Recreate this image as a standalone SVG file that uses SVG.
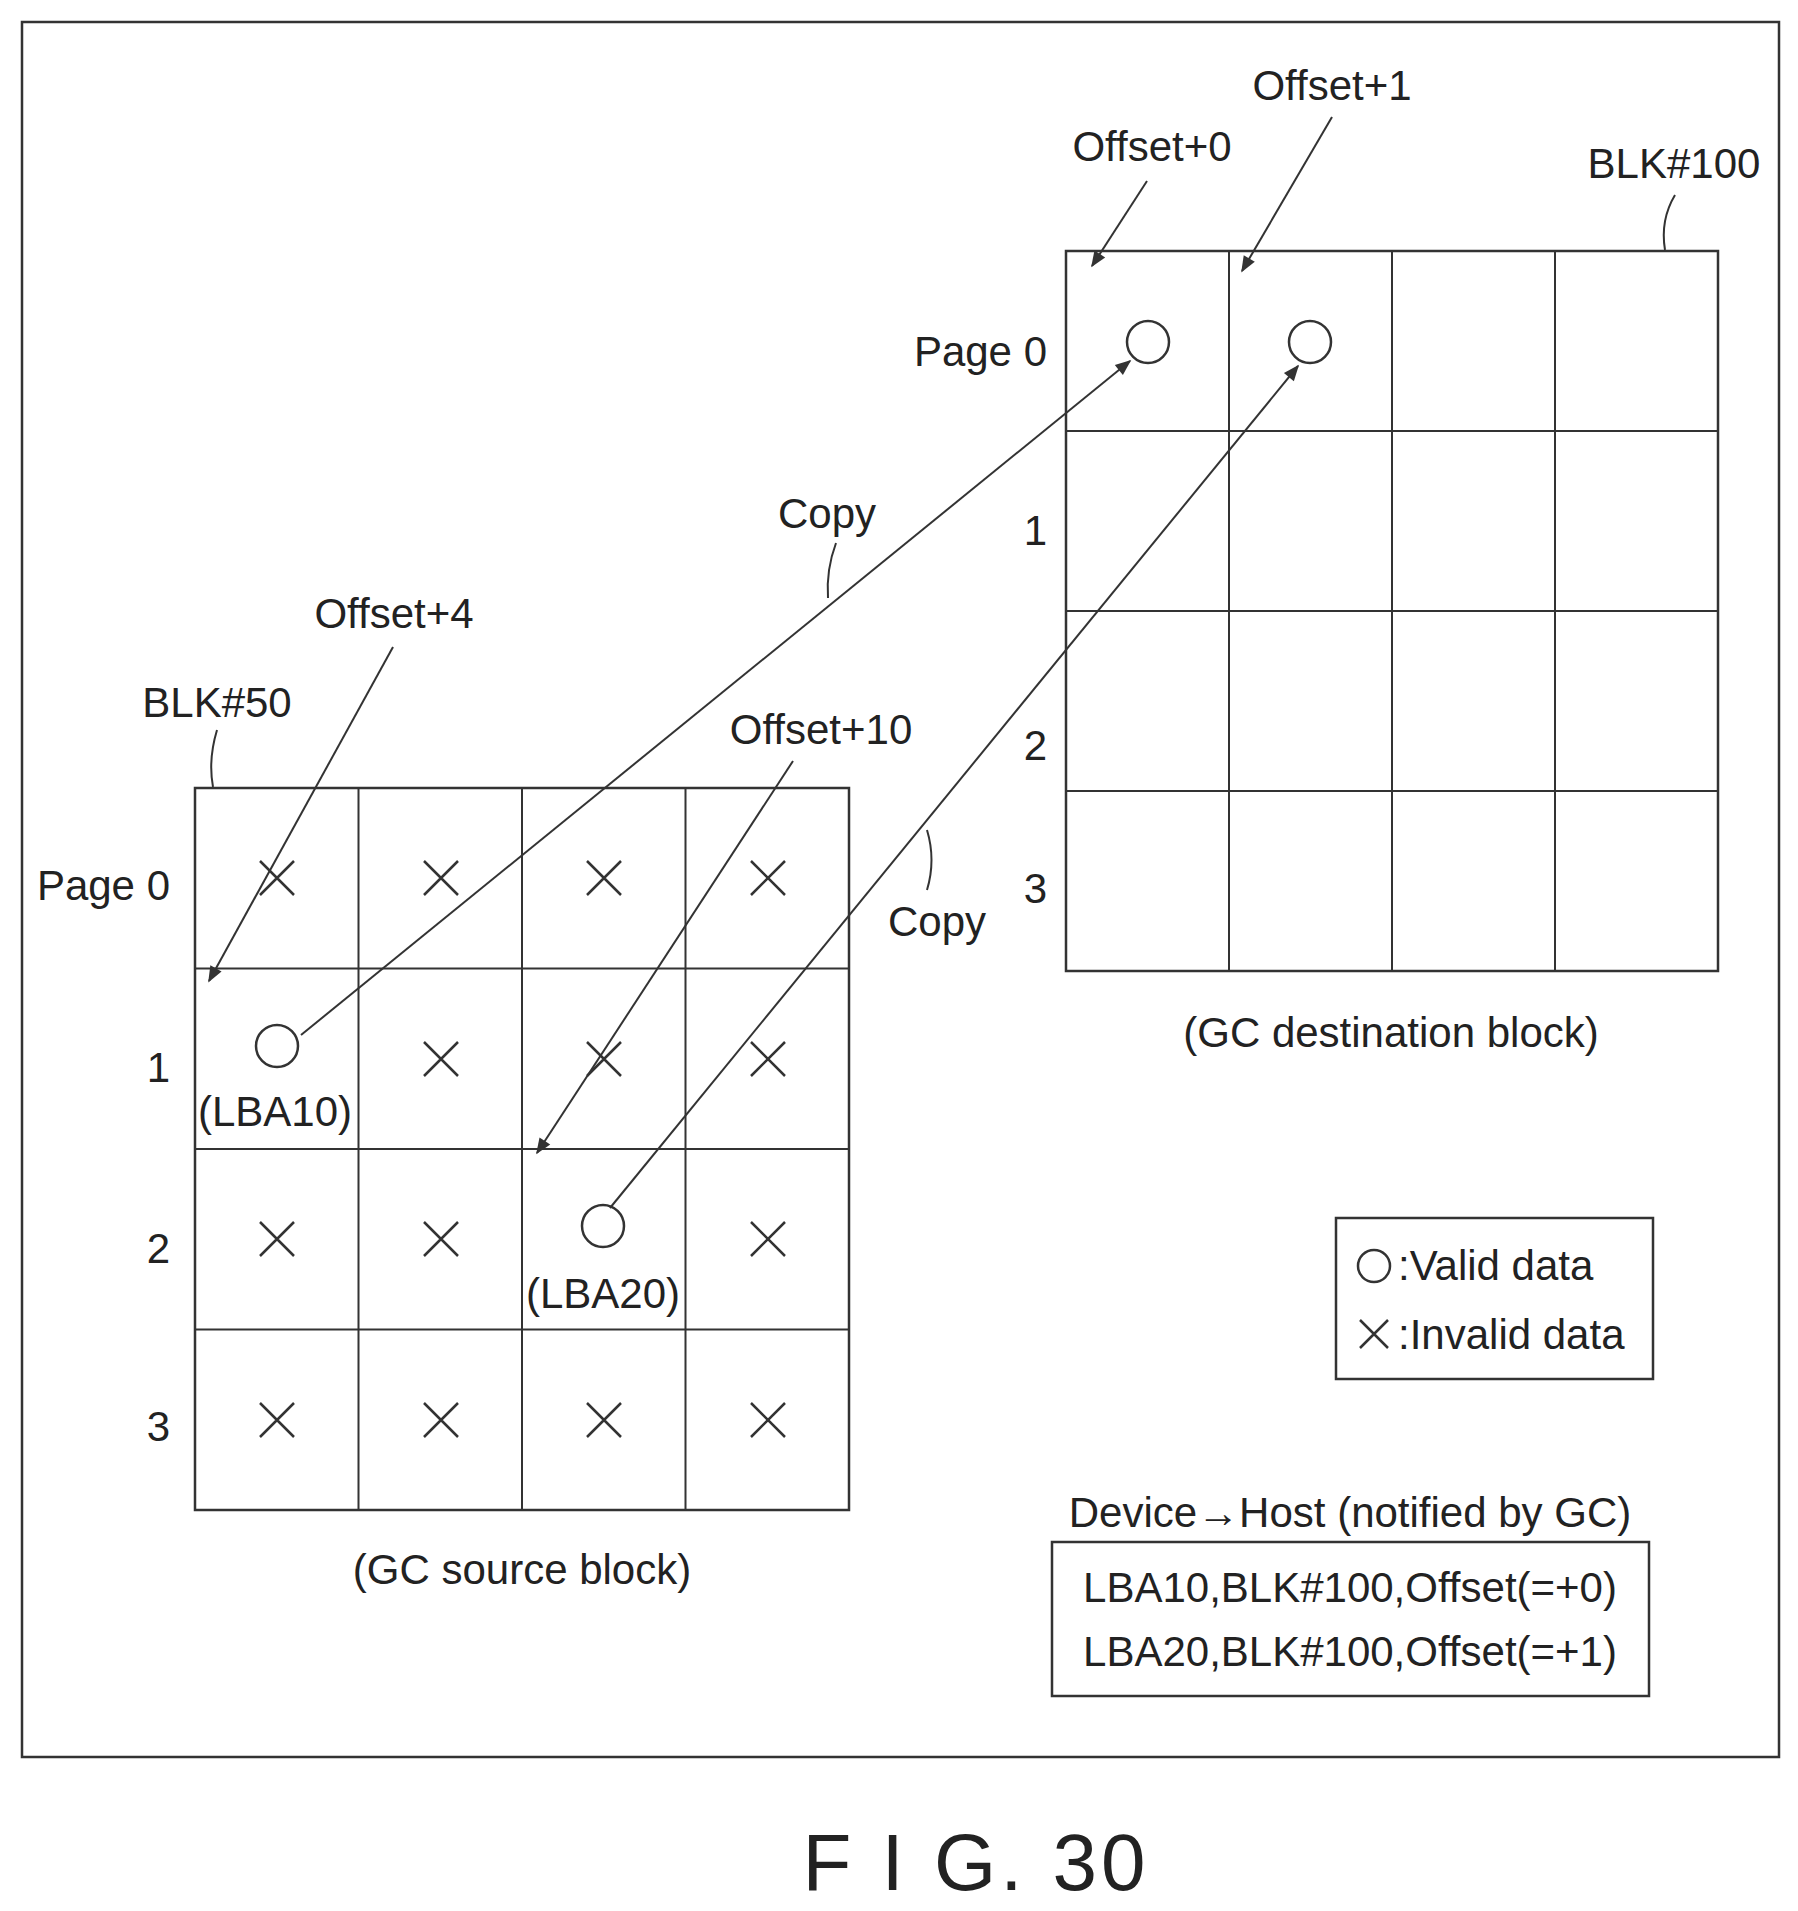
<svg xmlns="http://www.w3.org/2000/svg" width="1798" height="1911" viewBox="0 0 1798 1911">
<style>
text{font-family:"Liberation Sans",Arial,sans-serif;font-size:42px;fill:#222}
.m{text-anchor:middle}.e{text-anchor:end}
.ln{stroke:#333;stroke-width:2.5;fill:none}
.g{stroke:#333;stroke-width:2;fill:none}
</style>
<defs>
<marker id="ah" viewBox="0 0 10 10" refX="9" refY="5" markerWidth="20" markerHeight="16" markerUnits="userSpaceOnUse" orient="auto"><path d="M0,1 L10,5 L0,9 Z" fill="#333"/></marker>
<g id="x"><path d="M-17,-17 L17,17 M17,-17 L-17,17" stroke="#333" stroke-width="2.5"/></g>
</defs>
<rect x="22" y="22" width="1757" height="1735" class="ln"/>
<g id="source">
<rect x="195" y="788" width="654" height="722" class="ln"/>
<path class="g" d="M358.5,788V1510M522,788V1510M685.5,788V1510M195,968.5H849M195,1149H849M195,1329.5H849"/>
<use href="#x" x="277" y="878"/><use href="#x" x="441" y="878"/><use href="#x" x="604" y="878"/><use href="#x" x="768" y="878"/>
<use href="#x" x="441" y="1059"/><use href="#x" x="604" y="1059"/><use href="#x" x="768" y="1059"/>
<use href="#x" x="277" y="1239"/><use href="#x" x="441" y="1239"/><use href="#x" x="768" y="1239"/>
<use href="#x" x="277" y="1420"/><use href="#x" x="441" y="1420"/><use href="#x" x="604" y="1420"/><use href="#x" x="768" y="1420"/>
<circle cx="277" cy="1046" r="21" class="ln"/><circle cx="603" cy="1226" r="21" class="ln"/>
<text x="275" y="1126" class="m">(LBA10)</text><text x="603" y="1308" class="m">(LBA20)</text>
<text x="170" y="900" class="e">Page 0</text>
<text x="170" y="1082" class="e">1</text><text x="170" y="1263" class="e">2</text><text x="170" y="1441" class="e">3</text>
<text x="217" y="717" class="m">BLK#50</text>
<text x="522" y="1584" class="m">(GC source block)</text>
</g>
<g id="dest">
<rect x="1066" y="251" width="652" height="720" class="ln"/>
<path class="g" d="M1229,251V971M1392,251V971M1555,251V971M1066,431H1718M1066,611H1718M1066,791H1718"/>
<circle cx="1148" cy="342" r="21" class="ln"/><circle cx="1310" cy="342" r="21" class="ln"/>
<text x="1047" y="366" class="e">Page 0</text>
<text x="1047" y="545" class="e">1</text><text x="1047" y="760" class="e">2</text><text x="1047" y="903" class="e">3</text>
<text x="1674" y="178" class="m">BLK#100</text>
<text x="1152" y="161" class="m">Offset+0</text>
<text x="1332" y="100" class="m">Offset+1</text>
<text x="1391" y="1047" class="m">(GC destination block)</text>
</g>
<g id="labels">
<text x="827" y="528" class="m">Copy</text>
<text x="937" y="936" class="m">Copy</text>
<text x="394" y="628" class="m">Offset+4</text>
<text x="821" y="744" class="m">Offset+10</text>
</g>
<g id="legend">
<rect x="1336" y="1218" width="317" height="161" class="ln"/>
<circle cx="1374" cy="1266" r="16" class="ln"/>
<text x="1398" y="1280">:Valid data</text>
<path d="M1360,1320 L1388,1348 M1388,1320 L1360,1348" stroke="#333" stroke-width="2.5"/>
<text x="1398" y="1349">:Invalid data</text>
</g>
<g id="notify">
<text x="1350" y="1527" class="m">Device→Host (notified by GC)</text>
<rect x="1052" y="1542" width="597" height="154" class="ln"/>
<text x="1350" y="1602" class="m">LBA10,BLK#100,Offset(=+0)</text>
<text x="1350" y="1666" class="m">LBA20,BLK#100,Offset(=+1)</text>
</g>
<g id="connectors" class="g">
<path d="M301,1035 L1130,361" marker-end="url(#ah)"/>
<path d="M610,1208 L1298,366" marker-end="url(#ah)"/>
<path d="M393,647 L209,981" marker-end="url(#ah)"/>
<path d="M793,761 L537,1153" marker-end="url(#ah)"/>
<path d="M1147,181 L1092,266" marker-end="url(#ah)"/>
<path d="M1332,117 L1242,271" marker-end="url(#ah)"/>
<path d="M836,543 Q826,570 828,598"/>
<path d="M927,890 Q936,860 927,830"/>
<path d="M1675,195 Q1660,220 1665,250"/>
<path d="M217,730 Q208,760 213,787"/>
</g>
<text x="976" y="1890" class="m" style="font-size:80px;letter-spacing:4px">F I G. 30</text>
</svg>
